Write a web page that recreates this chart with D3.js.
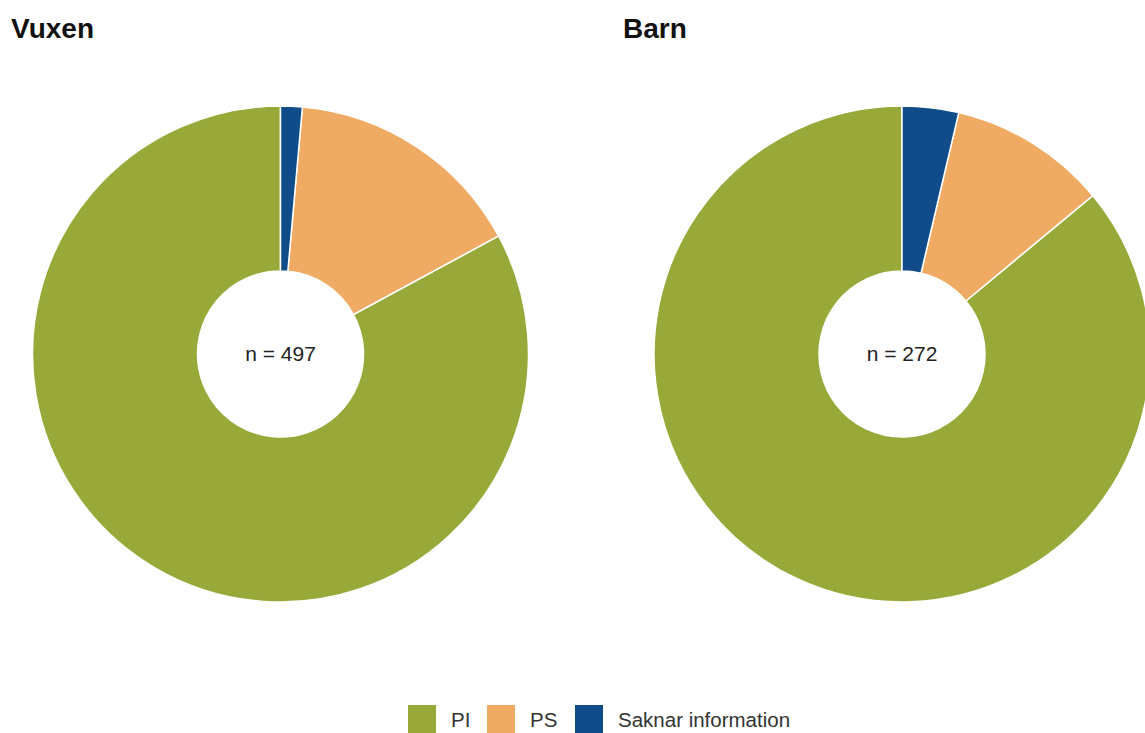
<!DOCTYPE html>
<html><head><meta charset="utf-8">
<script src="https://cdn.jsdelivr.net/npm/d3@7"></script>
<style>body{margin:0;background:#fff;overflow:hidden}</style>
</head><body>
<svg id="c" width="1145" height="733"></svg>
<script>
const categories = ["PI", "PS", "Saknar information"];
const colors = ["#98A93A", "#EFAB63", "#0F4C89"];
const panels = ["Vuxen", "Barn"];
const vuxenValues = [412, 78, 7];
const barnValues = [234, 28, 10];
const totals = ["n = 497", "n = 272"];

const svg = d3.select("#c");
const color = d3.scaleOrdinal().domain(categories).range(colors);
const centers = [[280.5, 354], [902, 354]];
const outerR = 248, innerR = 83;
const arc = d3.arc().innerRadius(innerR).outerRadius(outerR);
const pie = d3.pie().sort(null).startAngle(2*Math.PI).endAngle(0);
const titleX = [11, 623];
const font = "Liberation Sans, Arial, sans-serif";

[vuxenValues, barnValues].forEach((vals, i) => {
  const g = svg.append("g").attr("transform", `translate(${centers[i][0]},${centers[i][1]})`);
  g.selectAll("path").data(pie(vals)).join("path")
    .attr("d", arc)
    .attr("fill", (d, j) => color(categories[j]))
    .attr("stroke", "#fff").attr("stroke-width", 1.5);
  g.append("text").attr("text-anchor", "middle").attr("dy", "0.35em")
    .attr("font-family", font).attr("font-size", 21)
    .attr("fill", "#222").text(totals[i]);
  svg.append("text").attr("x", titleX[i]).attr("y", 38)
    .attr("font-family", font).attr("font-size", 28)
    .attr("font-weight", "bold").attr("fill", "#111").text(panels[i]);
});

const legX = [408, 487, 575];
const leg = svg.append("g");
categories.forEach((c, j) => {
  leg.append("rect").attr("x", legX[j]).attr("y", 705).attr("width", 28).attr("height", 28).attr("fill", color(c));
  leg.append("text").attr("x", legX[j] + 43).attr("y", 727)
    .attr("font-family", font).attr("font-size", 20.5)
    .attr("fill", "#333").text(c);
});
</script>
</body></html>
